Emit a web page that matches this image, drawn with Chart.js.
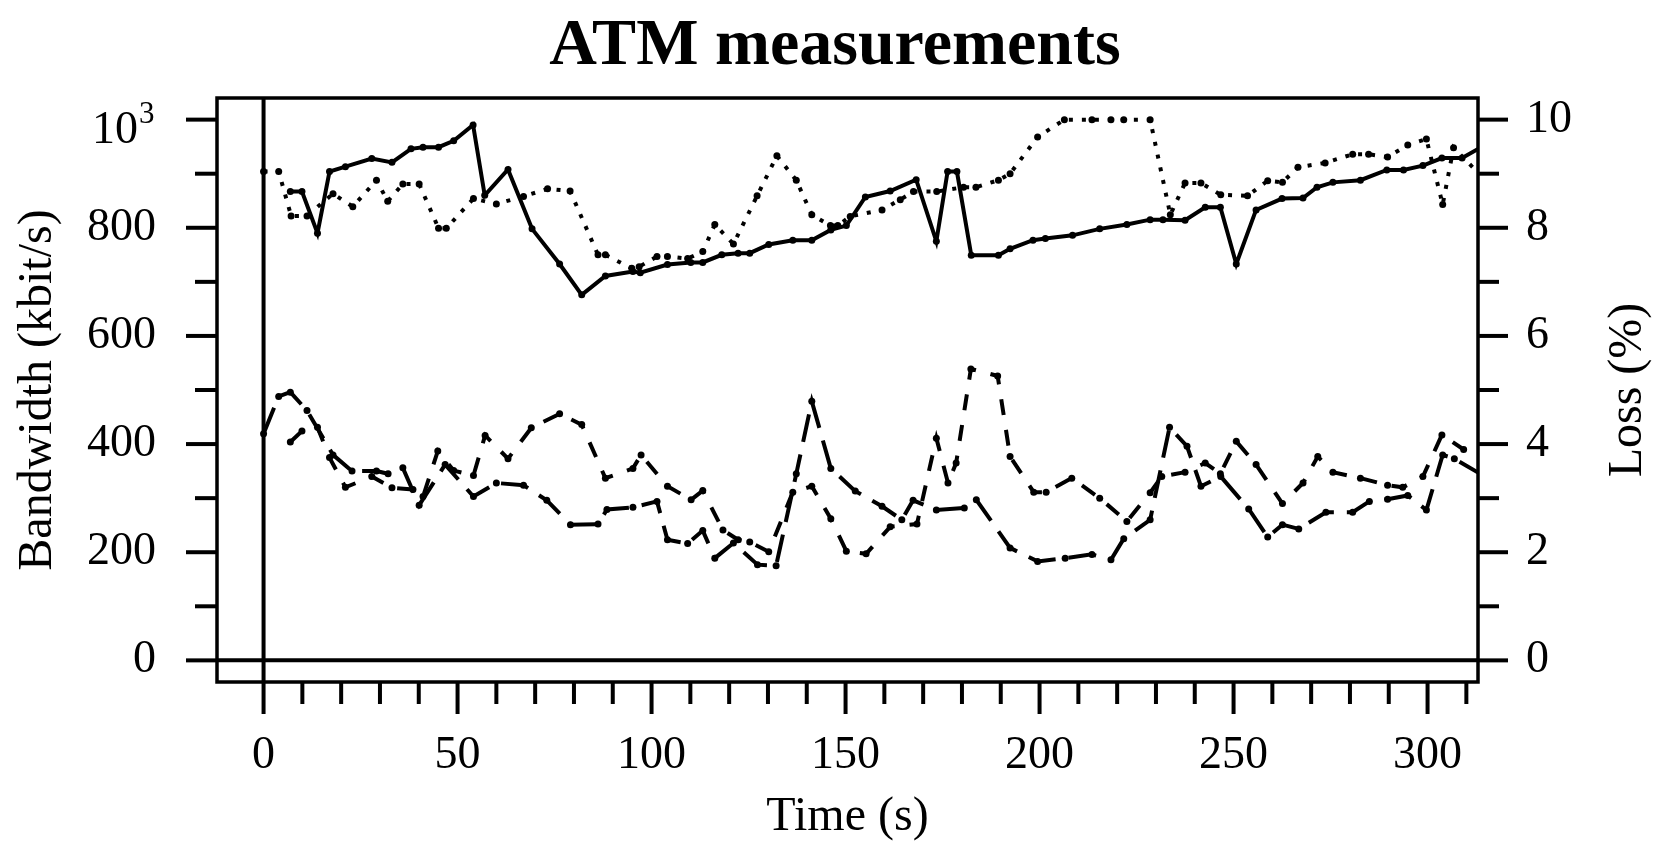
<!DOCTYPE html>
<html>
<head>
<meta charset="utf-8">
<title>ATM measurements</title>
<script src="https://cdn.jsdelivr.net/npm/chart.js@4.4.1/dist/chart.umd.min.js"></script>
<style>
  html, body { margin: 0; padding: 0; background: #fff; }
  #wrap { width: 1663px; height: 844px; }
</style>
</head>
<body>
<div id="wrap"><canvas id="atm" width="1663" height="844"></canvas></div>
<script>
// bandwidth, first link (solid)
const solidTime = [6.9, 9.9, 13.9, 17.0, 21.1, 27.9, 33.1, 38.0, 41.1, 45.1, 49.0, 54.0, 57.0, 63.0, 69.2,
  76.3, 82.0, 88.1, 95.2, 97.1, 104.1, 110.1, 113.2, 118.1, 122.3, 125.3, 130.2, 136.4, 141.3, 146.2,
  150.2, 155.1, 161.5, 168.2, 173.4, 176.3, 178.7, 182.4, 189.4, 192.4, 198.3, 201.5, 208.5, 215.5, 222.5,
  228.5, 231.8, 237.5, 242.7, 246.6, 250.7, 255.8, 262.5, 267.9, 271.5, 275.6, 282.7, 289.5, 293.8, 298.8,
  303.7, 308.9, 316.0];
const solidBw = [867, 867, 790, 904, 913, 928, 921, 946, 949, 949, 961, 990, 860, 908, 798,
  733, 676, 711, 719, 717, 732, 736, 736, 750, 753, 753, 769, 777, 777, 796,
  804, 857, 868, 889, 775, 904, 904, 749, 749, 761, 777, 780, 786, 798, 806,
  815, 815, 814, 838, 838, 733, 833, 854, 855, 875, 884, 888, 907, 907, 915,
  929, 929, 958];

// bandwidth, second link (dotted)
const dottedTime = [0, 3.9, 7.1, 11.2, 17.9, 23.0, 29.1, 32.0, 35.9, 40.1, 45.1, 47.1, 54.1, 60.0, 67.0,
  73.2, 79.0, 86.2, 88.1, 94.9, 96.8, 101.4, 104.1, 109.3, 113.2, 116.3, 121.1, 127.2, 132.3, 137.3,
  141.3, 146.1, 148.0, 151.2, 159.4, 164.1, 167.5, 173.5, 180.4, 183.6, 189.4, 192.4, 199.5, 206.4, 213.5,
  218.4, 221.7, 228.5, 233.7, 237.5, 241.6, 246.7, 253.6, 258.8, 262.6, 266.6, 273.6, 280.7, 284.8, 289.7,
  294.9, 299.7, 303.9, 306.7, 316.0];
const dottedBw = [904, 904, 822, 822, 863, 839, 888, 849, 881, 881, 799, 799, 854, 844, 858,
  872, 868, 750, 750, 725, 728, 747, 747, 743, 756, 806, 770, 859, 933, 888,
  824, 804, 804, 821, 833, 852, 867, 867, 875, 875, 888, 900, 968, 1000, 1000,
  1000, 1000, 1000, 824, 883, 883, 861, 859, 887, 884, 912, 920, 936, 936, 931,
  953, 964, 843, 948, 880];

// loss (%), first link (short dashes)
const shortTime = [6.9, 9.9, 13.9, 17.0, 21.1, 27.9, 33.1, 38.5, 41.1, 44.9, 49.0, 54.1, 57.1, 63.0, 69.0,
  76.3, 82.0, 88.1, 95.2, 97.3, 104.1, 110.2, 113.2, 118.4, 122.3, 125.3, 130.2, 136.4, 141.3, 146.2,
  150.2, 155.3, 161.5, 168.4, 173.4, 176.4, 178.5, 182.3, 189.2, 192.4, 198.5, 201.7, 208.3, 215.5, 222.5,
  228.5, 231.5, 237.5, 242.7, 246.6, 250.7, 255.8, 262.6, 267.9, 271.7, 275.6, 282.7, 289.7, 293.6, 298.8,
  303.7, 309.3, 316.0];
const shortLoss = [4.04, 4.24, 4.31, 3.75, 3.20, 3.40, 3.19, 3.16, 3.03, 3.87, 3.51, 3.42, 4.16, 3.73, 4.30,
  4.56, 4.36, 3.37, 3.55, 3.80, 3.22, 2.97, 3.14, 2.41, 2.23, 2.19, 2.01, 3.11, 3.22, 2.62,
  2.02, 1.97, 2.47, 2.52, 4.11, 3.28, 3.65, 5.39, 5.26, 3.77, 3.11, 3.11, 3.37, 3.00, 2.57,
  3.10, 3.40, 3.48, 3.65, 3.45, 4.05, 3.62, 2.90, 3.28, 3.77, 3.48, 3.37, 3.24, 3.20, 3.40,
  4.17, 3.90, 4.02];

// loss (%), second link (long dashes)
const longTime = [0, 3.9, 6.9, 11.2, 17.9, 22.8, 29.1, 32.1, 35.9, 40.1, 46.8, 54.1, 60.0, 67.0, 73.0,
  79.1, 86.2, 88.5, 95.2, 101.4, 104.1, 109.3, 113.2, 116.3, 121.1, 127.3, 132.1, 137.3, 141.3, 146.2,
  152.5, 159.4, 164.5, 167.4, 173.4, 180.6, 183.7, 192.4, 199.5, 206.6, 213.5, 218.4, 221.7, 228.5, 233.5,
  238.0, 241.6, 246.7, 253.9, 258.8, 262.6, 266.8, 273.8, 280.7, 285.0, 289.7, 294.9, 299.7, 303.9, 306.9,
  316.0];
const longLoss = [4.19, 4.88, 4.96, 4.62, 3.80, 3.50, 3.50, 3.45, 3.56, 2.87, 3.62, 3.03, 3.28, 3.24, 2.96,
  2.51, 2.52, 2.79, 2.83, 2.94, 2.23, 2.16, 2.40, 1.89, 2.17, 1.77, 1.75, 3.45, 4.79, 3.55,
  3.13, 2.85, 2.60, 2.96, 2.78, 2.82, 2.97, 2.08, 1.83, 1.89, 1.96, 1.86, 2.25, 2.60, 4.31,
  3.96, 3.22, 3.40, 2.80, 2.28, 2.51, 2.43, 2.74, 2.74, 2.94, 2.98, 3.05, 2.78, 3.80, 3.73,
  3.35];

const timeTicks = [0, 50, 100, 150, 200, 250, 300];
const bwTicks = [0, 200, 400, 600, 800, 1000];
const lossTicks = [0, 2, 4, 6, 8, 10];

const SERIF = "'Liberation Serif', 'Times New Roman', serif";
const labelFont = { family: SERIF, size: 46 };

const toPoints = (xs, ys) => xs.map((x, i) => ({ x: x, y: ys[i] }));

function series(label, xs, ys, axis, dash) {
  return {
    label: label,
    data: toPoints(xs, ys),
    yAxisID: axis,
    borderColor: '#000',
    backgroundColor: '#000',
    borderWidth: 4,
    borderDash: dash,
    pointRadius: 3.5,
    pointHoverRadius: 3.5,
    pointBorderWidth: 0,
    pointBackgroundColor: '#000',
    tension: 0,
    fill: false,
    clip: 0
  };
}

function seg(ctx, x1, y1, x2, y2) {
  ctx.beginPath();
  ctx.moveTo(x1, y1);
  ctx.lineTo(x2, y2);
  ctx.stroke();
}

// box, zero lines and R-style tick marks outside the box
const frame = {
  id: 'frame',
  beforeDatasetsDraw(chart) {
    const { ctx, chartArea: a, scales } = chart;
    const xs = scales.x, bw = scales.bw, loss = scales.loss;
    ctx.save();
    ctx.strokeStyle = '#000';
    ctx.lineCap = 'butt';
    ctx.lineWidth = 3.5;
    ctx.strokeRect(a.left, a.top, a.right - a.left, a.bottom - a.top);

    ctx.lineWidth = 4;
    const x0 = xs.getPixelForValue(0);
    const y0 = bw.getPixelForValue(0);
    seg(ctx, x0, a.top, x0, a.bottom);
    seg(ctx, a.left, y0, a.right, y0);

    for (let t = 0; t <= 310; t += 10) {
      const px = xs.getPixelForValue(t);
      seg(ctx, px, a.bottom, px, a.bottom + (t % 50 === 0 ? 32 : 22));
    }
    for (let v = 0; v <= 1000; v += 100) {
      const py = bw.getPixelForValue(v);
      seg(ctx, a.left - (v % 200 === 0 ? 31 : 22), py, a.left, py);
    }
    for (let v = 0; v <= 10; v += 1) {
      const py = loss.getPixelForValue(v);
      seg(ctx, a.right, py, a.right + (v % 2 === 0 ? 30 : 21), py);
    }
    ctx.restore();
  },
  afterDraw(chart) {
    const { ctx, chartArea: a, scales } = chart;
    const midY = (a.top + a.bottom) / 2;
    ctx.save();
    ctx.fillStyle = '#000';
    ctx.textAlign = 'center';
    ctx.textBaseline = 'alphabetic';

    ctx.font = 'bold 66px ' + SERIF;
    ctx.fillText('ATM measurements', 835, 64);

    // 10^3 label at the top of the bandwidth axis
    const yTop = scales.bw.getPixelForValue(1000);
    ctx.textAlign = 'right';
    ctx.font = '46px ' + SERIF;
    ctx.fillText('10', 138, yTop + 23);
    ctx.textAlign = 'left';
    ctx.font = '31px ' + SERIF;
    ctx.fillText('3', 139, yTop + 3);

    ctx.textAlign = 'center';
    ctx.font = '48px ' + SERIF;
    ctx.fillText('Time (s)', (a.left + a.right) / 2, 830);

    ctx.save();
    ctx.translate(51, midY);
    ctx.rotate(-Math.PI / 2);
    ctx.fillText('Bandwidth (kbit/s)', 0, 0);
    ctx.restore();

    ctx.save();
    ctx.translate(1641, midY);
    ctx.rotate(-Math.PI / 2);
    ctx.fillText('Loss (%)', 0, 0);
    ctx.restore();

    ctx.restore();
  }
};

new Chart(document.getElementById('atm'), {
  type: 'line',
  data: {
    datasets: [
      series('Bandwidth 1', solidTime, solidBw, 'bw', []),
      series('Bandwidth 2', dottedTime, dottedBw, 'bw', [4, 9]),
      series('Loss 1', shortTime, shortLoss, 'loss', [16, 15]),
      series('Loss 2', longTime, longLoss, 'loss', [28, 13])
    ]
  },
  options: {
    responsive: false,
    animation: false,
    devicePixelRatio: 1,
    layout: { padding: { top: 98, left: 0, right: 0, bottom: 0 } },
    plugins: {
      legend: { display: false },
      tooltip: { enabled: false },
      title: { display: false }
    },
    events: [],
    scales: {
      x: {
        type: 'linear',
        position: 'bottom',
        min: -12,
        max: 313,
        afterFit: s => { s.height = 162; },
        afterBuildTicks: s => { s.ticks = timeTicks.map(v => ({ value: v })); },
        grid: { display: false, drawTicks: false },
        border: { display: false },
        ticks: { font: labelFont, color: '#000', padding: 46, autoSkip: false, maxRotation: 0 }
      },
      bw: {
        type: 'linear',
        position: 'left',
        min: -40,
        max: 1040,
        afterFit: s => { s.width = 217; },
        afterBuildTicks: s => { s.ticks = bwTicks.map(v => ({ value: v })); },
        grid: { display: false, drawTicks: false },
        border: { display: false },
        ticks: {
          font: labelFont, color: '#000', padding: 61,
          // the 1000 label is drawn as 10 with a raised 3 in the frame plugin
          callback: v => (v === 1000 ? '' : String(v))
        }
      },
      loss: {
        type: 'linear',
        position: 'right',
        min: -0.4,
        max: 10.4,
        afterFit: s => { s.width = 185; },
        afterBuildTicks: s => { s.ticks = lossTicks.map(v => ({ value: v })); },
        grid: { display: false, drawTicks: false },
        border: { display: false },
        ticks: { font: labelFont, color: '#000', padding: 48 }
      }
    }
  },
  plugins: [frame]
});
</script>
</body>
</html>
